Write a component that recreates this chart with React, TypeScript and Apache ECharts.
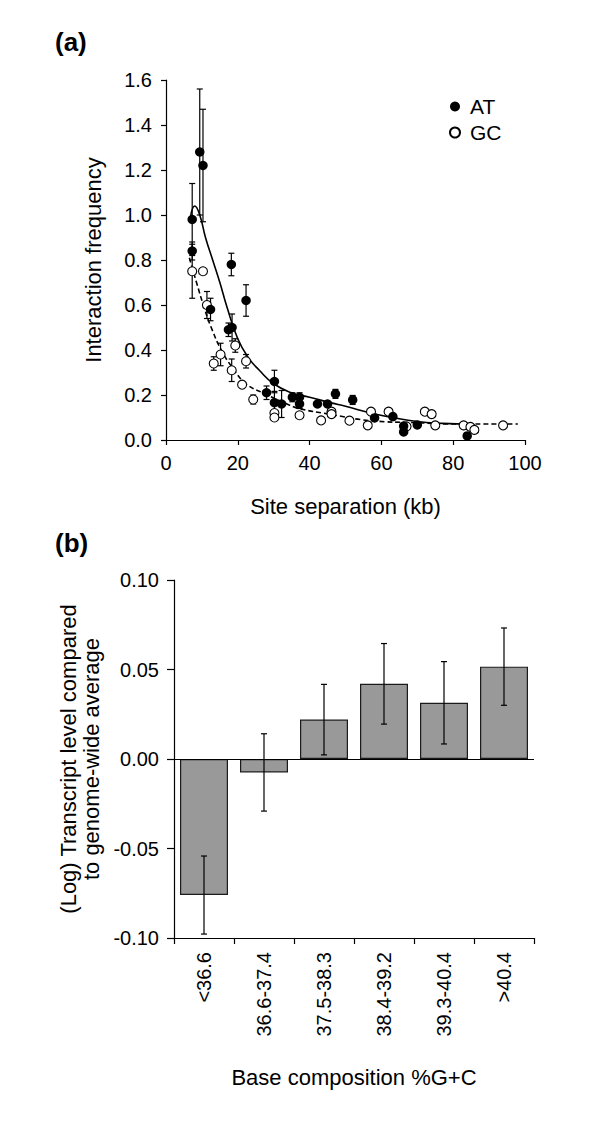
import React, { useEffect, useRef } from "react";
import * as echarts from "echarts";

// Panel (a): interaction frequency vs site separation
const atX = [7.3, 7.3, 9.4, 10.3, 12.4, 17.4, 18.4, 18.2, 22.3, 28, 30.2, 30.2, 32.2, 35.2, 37.2, 37.2, 42.2, 45, 47.2, 52, 58.1, 63.2, 66.2, 66.2, 70, 83.9];
const atY = [0.98, 0.84, 1.28, 1.22, 0.58, 0.49, 0.5, 0.78, 0.62, 0.21, 0.26, 0.166, 0.16, 0.19, 0.19, 0.16, 0.16, 0.16, 0.205, 0.178, 0.098, 0.104, 0.062, 0.036, 0.067, 0.018];
const atErr = [0.16, 0.04, 0.28, 0.25, 0.05, 0.03, 0.06, 0.05, 0.07, 0.03, 0.05, 0.05, 0.06, 0.02, 0.02, 0.02, 0.01, 0.01, 0.02, 0.02, 0.01, 0.01, 0.01, 0.01, 0.01, 0.01];

const gcX = [7.3, 10.3, 11.4, 13.3, 15.2, 18.3, 19.3, 22.3, 21.2, 24.3, 30.2, 30.2, 37.2, 43.2, 46.1, 46.1, 51.1, 56.2, 57.1, 62, 67, 72.1, 74, 75, 82.9, 84.8, 85.9, 93.9];
const gcY = [0.75, 0.75, 0.6, 0.34, 0.38, 0.31, 0.42, 0.35, 0.246, 0.18, 0.12, 0.1, 0.11, 0.087, 0.126, 0.115, 0.086, 0.065, 0.126, 0.126, 0.06, 0.126, 0.115, 0.065, 0.065, 0.058, 0.045, 0.065];
const gcErr = [0.12, 0, 0.06, 0.03, 0.05, 0.05, 0.03, 0.03, 0.01, 0.02, 0, 0, 0, 0, 0.01, 0, 0, 0, 0, 0, 0, 0, 0.015, 0, 0, 0, 0, 0];

// Fitted curves
const atFitX = [6.8, 8, 9.4, 11, 13, 15, 17, 20, 23, 26, 30, 35, 40, 46, 50, 57, 63, 70, 77, 85];
const atFitY = [0.99, 1.04, 1.0, 0.9, 0.8, 0.7, 0.59, 0.45, 0.365, 0.31, 0.25, 0.21, 0.19, 0.165, 0.15, 0.12, 0.1, 0.082, 0.074, 0.07];
const gcFitX = [6.5, 8.5, 10.8, 12.6, 15.4, 18.6, 22.3, 26.9, 34.3, 37, 45.4, 57, 69.3, 82, 98];
const gcFitY = [0.81, 0.7, 0.58, 0.5, 0.4, 0.32, 0.25, 0.21, 0.156, 0.14, 0.115, 0.086, 0.077, 0.071, 0.071];

const aXTicks = [0, 20, 40, 60, 80, 100];
const aYTicks = [0, 0.2, 0.4, 0.6, 0.8, 1.0, 1.2, 1.4, 1.6];

// Panel (b): transcript level by base composition
const bCategories = ["<36.6", "36.6-37.4", "37.5-38.3", "38.4-39.2", "39.3-40.4", ">40.4"];
const bValues = [-0.076, -0.0075, 0.022, 0.042, 0.0314, 0.0516];
const bErr = [0.0218, 0.0216, 0.0197, 0.0225, 0.023, 0.0216];
const bYTicks = [-0.1, -0.05, 0, 0.05, 0.1];

const FONT = "Liberation Sans, Arial, Helvetica, sans-serif";

function errRender(cap: number) {
  return (params: any, api: any) => {
    const x = api.value(0);
    const y = api.value(1);
    const e = api.value(2);
    if (!e) return { type: "group", children: [] };
    const top = api.coord([x, y + e]);
    const bot = api.coord([x, y - e]);
    const style = { stroke: "#000", lineWidth: 1.2 };
    return {
      type: "group",
      children: [
        { type: "line", shape: { x1: top[0], y1: top[1], x2: bot[0], y2: bot[1] }, style },
        { type: "line", shape: { x1: top[0] - cap, y1: top[1], x2: top[0] + cap, y2: top[1] }, style },
        { type: "line", shape: { x1: bot[0] - cap, y1: bot[1], x2: bot[0] + cap, y2: bot[1] }, style },
      ],
    };
  };
}

export default function App() {
  const ref = useRef<HTMLDivElement>(null);
  useEffect(() => {
    if (!ref.current) return;
    const chart = echarts.init(ref.current, null, { renderer: "svg" });
    const atData = atX.map((x, i) => [x, atY[i], atErr[i]]);
    const gcData = gcX.map((x, i) => [x, gcY[i], gcErr[i]]);
    const atFit = atFitX.map((x, i) => [x, atFitY[i]]);
    const gcFit = gcFitX.map((x, i) => [x, gcFitY[i]]);
    const bData = bValues.map((v, i) => [i, v, bErr[i]]);

    const axisLine = { show: true, lineStyle: { color: "#000", width: 1.2 } };
    const axisTick = { show: true, length: 5, lineStyle: { color: "#000", width: 1.2 } };
    const label = { color: "#000", fontSize: 20, fontFamily: FONT };
    const nameStyle = { color: "#000", fontSize: 22, fontFamily: FONT };

    chart.setOption({
      animation: false,
      backgroundColor: "#fff",
      title: [
        { text: "(a)", left: 55, top: 29, padding: 0, textStyle: { fontSize: 26, fontWeight: "bold", color: "#000", fontFamily: FONT } },
        { text: "(b)", left: 55, top: 530, padding: 0, textStyle: { fontSize: 26, fontWeight: "bold", color: "#000", fontFamily: FONT } },
      ],
      legend: {
        data: [
          { name: "AT", icon: "circle" },
          { name: "GC", icon: "circle" },
        ],
        orient: "vertical",
        left: 444,
        top: 91,
        itemWidth: 10,
        itemHeight: 10,
        itemGap: 5,
        textStyle: { color: "#000", fontSize: 21, fontFamily: FONT, padding: [0, 0, 0, 5] },
      },
      grid: [
        { left: 166, top: 80, width: 359, height: 360 },
        { left: 174, top: 580, width: 360, height: 358 },
      ],
      xAxis: [
        {
          gridIndex: 0,
          type: "value",
          min: aXTicks[0],
          max: aXTicks[aXTicks.length - 1],
          interval: 20,
          splitLine: { show: false },
          axisLine,
          axisTick,
          axisLabel: { ...label, margin: 13 },
          name: "Site separation (kb)",
          nameLocation: "middle",
          nameGap: 55,
          nameTextStyle: nameStyle,
        },
        {
          gridIndex: 1,
          type: "category",
          data: bCategories,
          axisLine: { ...axisLine, onZero: false },
          axisTick: { ...axisTick, length: 6, interval: 0 },
          axisLabel: { ...label, rotate: 90, margin: 14, interval: 0 },
          name: "Base composition %G+C",
          nameLocation: "middle",
          nameGap: 128,
          nameTextStyle: nameStyle,
        },
      ],
      yAxis: [
        {
          gridIndex: 0,
          type: "value",
          min: aYTicks[0],
          max: aYTicks[aYTicks.length - 1],
          interval: 0.2,
          splitLine: { show: false },
          axisLine,
          axisTick,
          axisLabel: { ...label, margin: 14, formatter: (v: number) => v.toFixed(1) },
          name: "Interaction frequency",
          nameLocation: "middle",
          nameGap: 62,
          nameTextStyle: nameStyle,
        },
        {
          gridIndex: 1,
          type: "value",
          min: bYTicks[0],
          max: bYTicks[bYTicks.length - 1],
          interval: 0.05,
          splitLine: { show: false },
          axisLine,
          axisTick: { ...axisTick, length: 7 },
          axisLabel: { ...label, margin: 15, formatter: (v: number) => v.toFixed(2) },
          name: "(Log) Transcript level compared\nto genome-wide average",
          nameLocation: "middle",
          nameGap: 62,
          nameTextStyle: { ...nameStyle, lineHeight: 23 },
        },
      ],
      series: [
        {
          type: "line",
          name: "AT fit",
          xAxisIndex: 0,
          yAxisIndex: 0,
          data: atFit,
          smooth: true,
          showSymbol: false,
          lineStyle: { color: "#000", width: 1.6 },
          z: 1,
        },
        {
          type: "line",
          name: "GC fit",
          xAxisIndex: 0,
          yAxisIndex: 0,
          data: gcFit,
          smooth: true,
          showSymbol: false,
          lineStyle: { color: "#000", width: 1.6, type: [5, 3] },
          z: 1,
        },
        {
          type: "custom",
          name: "AT err",
          xAxisIndex: 0,
          yAxisIndex: 0,
          data: atData,
          encode: { x: 0, y: 1 },
          renderItem: errRender(3),
          z: 2,
        },
        {
          type: "custom",
          name: "GC err",
          xAxisIndex: 0,
          yAxisIndex: 0,
          data: gcData,
          encode: { x: 0, y: 1 },
          renderItem: errRender(3),
          z: 2,
        },
        {
          type: "scatter",
          name: "GC",
          xAxisIndex: 0,
          yAxisIndex: 0,
          data: gcData.map((d) => [d[0], d[1]]),
          symbol: "circle",
          symbolSize: 9,
          itemStyle: { color: "#fff", borderColor: "#000", borderWidth: 1.1, opacity: 1 },
          z: 3,
        },
        {
          type: "scatter",
          name: "AT",
          xAxisIndex: 0,
          yAxisIndex: 0,
          data: atData.map((d) => [d[0], d[1]]),
          symbol: "circle",
          symbolSize: 9.5,
          itemStyle: { color: "#000", opacity: 1 },
          z: 4,
        },
        {
          type: "bar",
          name: "Transcript",
          xAxisIndex: 1,
          yAxisIndex: 1,
          data: bValues,
          barWidth: "80%",
          itemStyle: { color: "#999999", borderColor: "#1a1a1a", borderWidth: 1.2 },
          markLine: {
            silent: true,
            symbol: "none",
            label: { show: false },
            lineStyle: { color: "#000", type: "solid", width: 1.2 },
            data: [{ yAxis: 0 }],
          },
          z: 2,
        },
        {
          type: "custom",
          name: "Transcript err",
          xAxisIndex: 1,
          yAxisIndex: 1,
          data: bData,
          encode: { x: 0, y: 1 },
          renderItem: errRender(3),
          z: 5,
        },
      ],
    });
    return () => chart.dispose();
  }, []);
  return (
    <div
      ref={ref}
      style={{ position: "absolute", left: 0, top: 0, width: 600, height: 1123, background: "#fff" }}
    />
  );
}
